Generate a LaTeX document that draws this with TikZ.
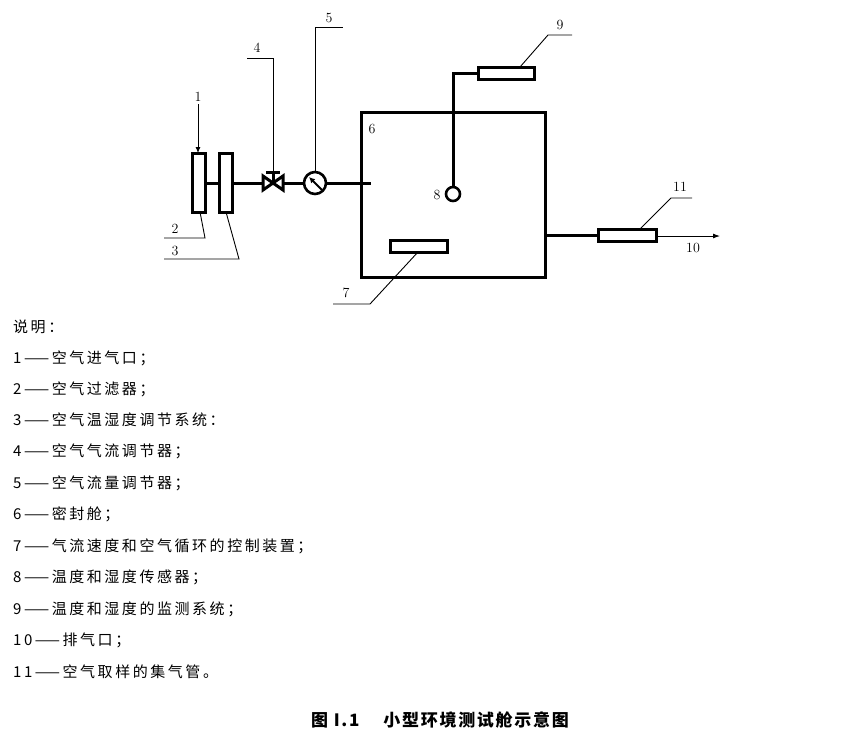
\documentclass[tikz,border=0pt]{standalone}
\usepackage{fontspec}
\newfontfamily\cjk[LetterSpace=17]{Noto Sans CJK SC}
\newfontfamily\cjkcap[LetterSpace=10]{Noto Sans CJK SC}
\usetikzlibrary{arrows.meta}
\begin{document}
\begin{tikzpicture}[x=1pt,y=-1pt,
  thick line/.style={line width=3pt},
  thin line/.style={line width=0.9pt},
  lbl/.style={font=\fontsize{14}{14}\selectfont, inner sep=0pt},
  txt/.style={font=\cjk\fontsize{15}{15}\selectfont, anchor=west, inner sep=0pt}]
\useasboundingbox (0,0) rectangle (851,740);
% filters
\draw[thick line] (192,153) rectangle (205,212);
\draw[thick line] (219,153) rectangle (232,212);
\coordinate (f2b) at (200,212); \coordinate (f3b) at (226,212);
% inlet arrow
\coordinate (in) at (198,104);
\draw[thin line,-{Latex[length=6pt,width=5pt]}] (in) -- (198,153);
\node[lbl] (l1) at (198,97) {1};
% pipe
\draw[thick line] (205,183) -- (219,183);
\draw[thick line] (232,183) -- (263,183);
% valve
\coordinate (v) at (273,183);
\draw[thick line,line join=miter] (263,176) -- (283,190) -- (283,176) -- (263,190) -- cycle;
\draw[thick line] (v) -- (273,172);
\draw[thick line] (266,172) -- (280,172);
\draw[thick line] (283,183) -- (304,183);
% gauge
\node[draw,circle,line width=2.6pt,minimum size=22pt,inner sep=0pt] (g) at (315,183) {};
\draw[line width=2pt,-{Latex[length=6pt,width=6pt]}] (322,190) -- (309,177);
\draw[thick line] (g.east) -- (371,183);
% chamber
\draw[thick line] (361,112) rectangle (545,277);
\node[lbl] (l6) at (372,129) {6};
% sensor 8
\node[draw,circle,line width=2.6pt,minimum size=14pt,inner sep=0pt] (s8) at (453,194) {};
\node[lbl] (l8) at (437,195) {8};
\draw[thick line] (s8.north) -- (453,73) -- (478,73);
\draw[thick line] (478,67) rectangle (534,79);
% 7
\draw[thick line] (390,240) rectangle (447,252);
% outlet
\draw[thick line] (545,235) -- (598,235);
\draw[thick line] (598,229) rectangle (656,241);
\draw[thin line,-{Latex[length=7pt,width=5pt]}] (656,236) -- (720,236);
\node[lbl] (l10) at (693,248) {10};
% leaders
\draw[thin line] (273,172) -- (273,58) -- (247,58);
\node[lbl] (l4) at (257,48) {4};
\draw[thin line] (g.north) -- (315,27) -- (343,27);
\node[lbl] (l5) at (329,18) {5};
\draw[thin line] (f2b) -- (205,238) -- (164,238);
\node[lbl] (l2) at (175,229) {2};
\draw[thin line] (f3b) -- (239,259) -- (164,259);
\node[lbl] (l3) at (175,251) {3};
\draw[thin line] (520,67) -- (548,35) -- (572,35);
\node[lbl] (l9) at (560,25) {9};
\draw[thin line] (418,252) -- (370,304) -- (333,304);
\node[lbl] (l7) at (346,293) {7};
\draw[thin line] (640,229) -- (671,198) -- (692,198);
\node[lbl] (l11) at (680,187) {11};
% legend
\node[txt] (t0) at (13,327) {说明：};
\node[txt] (t1) at (13,358) {1——空气进气口；};
\node[txt] (t2) at (13,389) {2——空气过滤器；};
\node[txt] (t3) at (13,420) {3——空气温湿度调节系统：};
\node[txt] (t4) at (13,451) {4——空气气流调节器；};
\node[txt] (t5) at (13,483) {5——空气流量调节器；};
\node[txt] (t6) at (13,514) {6——密封舱；};
\node[txt] (t7) at (13,546) {7——气流速度和空气循环的控制装置；};
\node[txt] (t8) at (13,577) {8——温度和湿度传感器；};
\node[txt] (t9) at (13,609) {9——温度和湿度的监测系统；};
\node[txt] (t10) at (13,640) {10——排气口；};
\node[txt] (t11) at (13,672) {11——空气取样的集气管。};
\node[font=\cjkcap\bfseries\fontsize{17}{17}\selectfont, inner sep=0pt] (cap) at (440,720) {图 I.1\hspace{24pt}小型环境测试舱示意图};
\end{tikzpicture}
\end{document}
